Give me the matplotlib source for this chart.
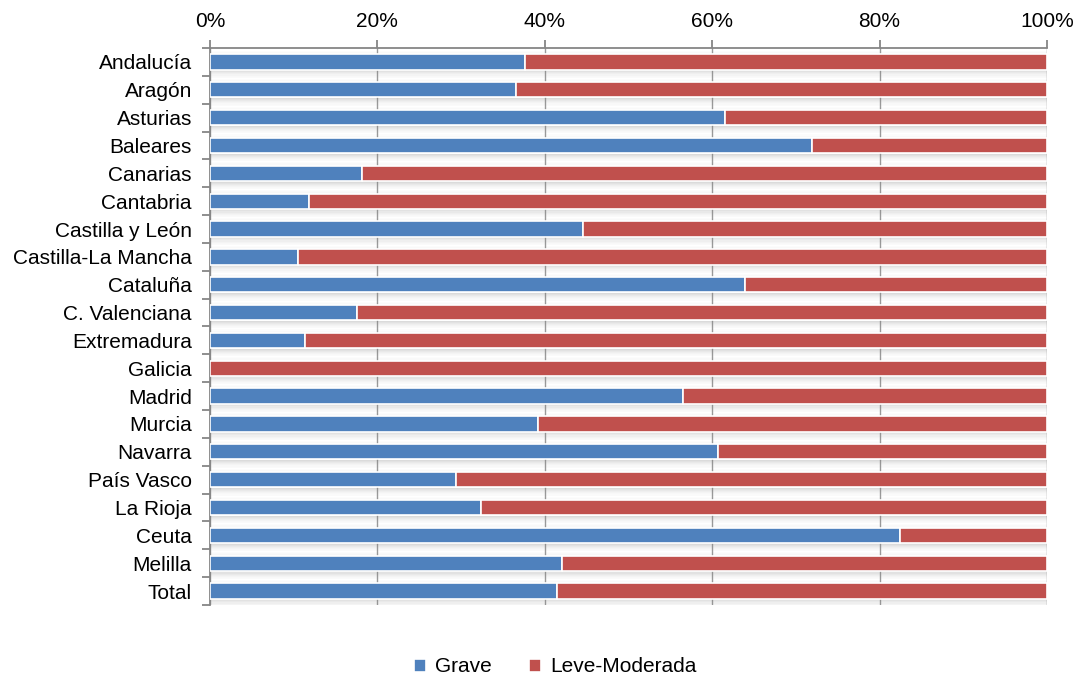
import matplotlib
matplotlib.use("Agg")
import matplotlib.pyplot as plt
import numpy as np

plt.rcParams['font.family'] = ['Liberation Sans', 'DejaVu Sans']

regions = ["Andalucía", "Aragón", "Asturias", "Baleares", "Canarias", "Cantabria",
           "Castilla y León", "Castilla-La Mancha", "Cataluña", "C. Valenciana",
           "Extremadura", "Galicia", "Madrid", "Murcia", "Navarra", "País Vasco",
           "La Rioja", "Ceuta", "Melilla", "Total"]
grave = [37.6, 36.6, 61.5, 71.9, 18.2, 11.8, 44.6, 10.5, 63.9, 17.6,
         11.4, 0.0, 56.5, 39.2, 60.7, 29.4, 32.4, 82.4, 42.1, 41.5]
leve = [100 - g for g in grave]
series_names = ["Grave", "Leve-Moderada"]
xticks = [0, 20, 40, 60, 80, 100]
xticklabels = ["0%", "20%", "40%", "60%", "80%", "100%"]

blue = "#4F81BD"
red = "#C0504D"
gray = "#868686"

fig = plt.figure(figsize=(10.8, 6.8), dpi=100)
ax = fig.add_axes([210/1080, 1-605/680, 837/1080, 557/680])

y = np.arange(len(regions))
h = 0.55
totals = [g + l for g, l in zip(grave, leve)]

# gridlines (visible only in gaps)
ax.set_axisbelow(True)
ax.xaxis.grid(True, color="#9a9a9a", linewidth=1.0, zorder=0)

# soft shadow under bars
shadow = [0.28, 0.22, 0.17, 0.12, 0.08, 0.05, 0.03]
for k, a in enumerate(shadow):
    ax.barh(y + h/2 + 0.015 + k*0.04 + 0.02, totals, height=0.04, color="#7f7f7f",
            alpha=a, linewidth=0, zorder=1)
for k, a in enumerate([0.06, 0.04, 0.02]):
    ax.barh(y - h/2 - 0.02 - k*0.04, totals, height=0.04, color="#7f7f7f",
            alpha=a, linewidth=0, zorder=1)

ax.barh(y, grave, height=h, color=blue, edgecolor="white", linewidth=1.2,
        label=series_names[0], zorder=3)
ax.barh(y, leve, left=grave, height=h, color=red, edgecolor="white", linewidth=1.2,
        label=series_names[1], zorder=3)

ax.set_ylim(len(regions) - 0.5, -0.5)
ax.set_xlim(0, 100)
ax.set_yticks(y)
ax.set_yticklabels(regions, fontsize=15)
ax.set_yticks(np.arange(len(regions) + 1) - 0.5, minor=True)
ax.tick_params(axis='y', which='major', length=0, pad=13)
ax.tick_params(axis='y', which='minor', length=6, color=gray, width=1.3, direction='out')

ax.xaxis.tick_top()
ax.set_xticks(xticks)
ax.set_xticklabels(xticklabels, fontsize=15)
ax.tick_params(axis='x', length=6, color=gray, width=1.3, direction='out', pad=6)

for s in ['right', 'bottom']:
    ax.spines[s].set_visible(False)
for s in ['top', 'left']:
    ax.spines[s].set_color(gray)
    ax.spines[s].set_linewidth(1.3)

leg = fig.legend(loc='center', bbox_to_anchor=(555/1080, 1-667/680), ncol=2, frameon=False,
                 fontsize=15, handlelength=0.6, handleheight=0.6, columnspacing=1.8,
                 handletextpad=0.4)

fig.savefig("out.png", dpi=100)
